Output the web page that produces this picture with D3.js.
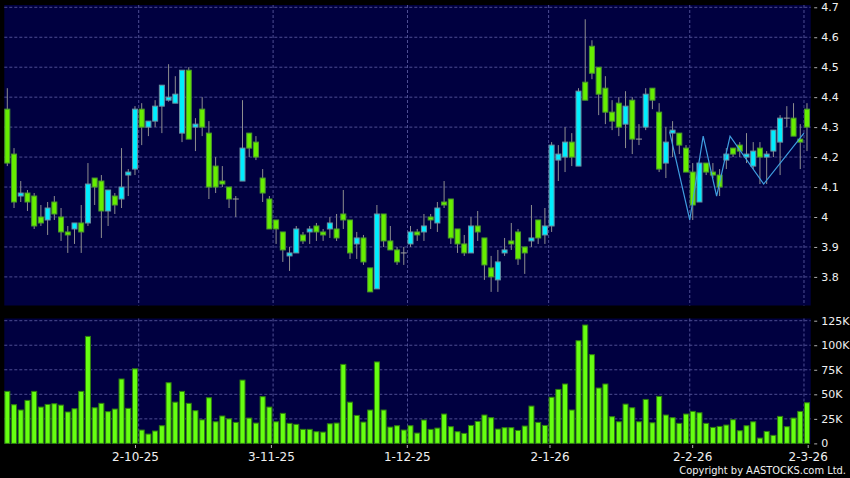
<!DOCTYPE html>
<html><head><meta charset="utf-8">
<script src="https://cdn.jsdelivr.net/npm/d3@7"></script>
<style>html,body{margin:0;padding:0;background:#000;} svg{display:block;}</style>
</head><body><svg id="c" width="850" height="478"></svg>
<script>
const opens  = [4.36,4.21,4.07,4.08,4.07,4.00,3.99,4.05,4.00,3.95,3.96,3.98,3.98,4.13,4.12,4.02,4.07,4.06,4.14,4.16,
                4.36,4.30,4.32,4.37,4.39,4.38,4.28,4.49,4.30,4.36,4.28,4.17,4.12,4.10,4.06,4.12,4.28,4.25,4.13,4.06,
                3.99,3.95,3.87,3.88,3.94,3.95,3.97,3.95,3.96,3.96,4.01,3.99,3.91,3.93,3.83,3.76,4.01,3.92,3.89,3.88,
                3.91,3.95,3.95,4.00,3.98,4.05,4.06,3.96,3.91,3.88,3.97,3.93,3.83,3.79,3.88,3.92,3.95,3.90,3.92,3.99,
                3.94,3.97,4.19,4.20,4.25,4.17,4.45,4.57,4.50,4.43,4.35,4.38,4.31,4.39,4.26,4.30,4.43,4.35,4.18,4.28,
                4.28,4.23,4.15,4.05,4.18,4.15,4.14,4.19,4.23,4.24,4.20,4.17,4.23,4.20,4.22,4.25,4.33,4.33,4.26,4.36];
const highs  = [4.43,4.23,4.12,4.09,4.08,4.04,4.05,4.07,4.03,3.97,3.98,4.04,4.18,4.13,4.14,4.09,4.08,4.23,4.16,4.37,
                4.38,4.32,4.39,4.44,4.51,4.47,4.49,4.50,4.33,4.40,4.32,4.20,4.17,4.10,4.07,4.39,4.28,4.27,4.16,4.07,
                3.99,3.95,3.90,3.97,3.95,3.97,3.98,3.96,4.00,4.01,4.09,3.99,3.95,3.94,3.83,4.04,4.01,3.97,3.90,3.90,
                3.97,3.96,4.01,4.01,4.05,4.12,4.06,3.96,3.94,4.00,4.02,3.93,3.87,3.89,3.93,3.98,3.96,3.90,4.04,3.99,
                4.03,4.25,4.24,4.30,4.28,4.43,4.66,4.59,4.50,4.47,4.39,4.40,4.42,4.40,4.31,4.43,4.43,4.38,4.30,4.32,
                4.28,4.24,4.18,4.18,4.18,4.18,4.16,4.23,4.23,4.25,4.28,4.25,4.25,4.22,4.29,4.34,4.37,4.38,4.31,4.38];
const lows   = [4.17,4.03,4.05,4.02,3.96,3.97,3.94,3.99,3.92,3.88,3.91,3.88,3.97,4.04,3.93,3.97,4.01,4.03,4.07,4.14,
                4.24,4.27,4.30,4.28,4.385,4.38,4.25,4.26,4.22,4.27,4.06,4.08,4.10,4.03,4.00,4.12,4.20,4.19,4.05,3.96,
                3.91,3.85,3.82,3.88,3.91,3.91,3.92,3.92,3.93,3.92,3.96,3.86,3.86,3.84,3.75,3.76,3.90,3.89,3.84,3.84,
                3.90,3.92,3.92,3.96,3.95,4.03,3.91,3.88,3.87,3.88,3.92,3.79,3.75,3.75,3.87,3.89,3.84,3.81,3.90,3.91,
                3.91,3.95,4.12,4.15,4.17,4.17,4.39,4.46,4.34,4.31,4.29,4.27,4.23,4.21,4.24,4.29,4.36,4.15,4.13,4.20,
                4.21,4.15,3.99,4.05,4.14,4.13,4.07,4.16,4.20,4.20,4.18,4.16,4.11,4.11,4.20,4.14,4.30,4.27,4.16,4.22];
const closes = [4.18,4.05,4.08,4.05,3.97,3.98,4.03,4.01,3.95,3.94,3.98,3.95,4.11,4.10,4.02,4.09,4.04,4.10,4.15,4.36,
                4.30,4.32,4.37,4.44,4.40,4.41,4.49,4.26,4.31,4.30,4.10,4.10,4.11,4.06,4.06,4.23,4.23,4.20,4.08,3.96,
                3.96,3.89,3.88,3.96,3.92,3.96,3.95,3.94,3.98,3.93,3.99,3.88,3.93,3.85,3.75,4.01,3.92,3.89,3.85,3.88,
                3.95,3.94,3.97,3.99,4.03,4.04,3.93,3.91,3.88,3.97,3.95,3.84,3.80,3.85,3.89,3.91,3.86,3.88,3.93,3.93,
                3.97,4.24,4.21,4.25,4.20,4.42,4.39,4.48,4.41,4.35,4.32,4.30,4.37,4.26,4.26,4.41,4.39,4.16,4.25,4.29,
                4.24,4.15,4.04,4.18,4.15,4.14,4.10,4.21,4.21,4.22,4.21,4.22,4.20,4.21,4.29,4.33,4.33,4.27,4.25,4.30];
// volume in thousands of shares
const volumes = [53,39.4,34,43.8,53,37,39.7,40.4,39,32,35.3,53,109,36.3,40.8,32.3,35,65.6,35.7,76,
                 13.6,9.5,12.6,18,61.8,42,53,40.8,33.3,24,46.5,22,27.9,25,21.4,64.5,25.8,20.7,47.6,37,
                 22,30.6,20.4,19.4,14.3,14.3,11.9,11.5,20,20.7,80.5,42,28.5,21.7,34,83,34,16.6,18,13.6,
                 18,10.5,23.8,14.3,15.6,29.9,17,11.9,10.2,18.3,22.4,28.9,26.2,14.6,16,16,13.2,17.7,38,21.4,
                 18.3,47,55,60.5,34,104.6,120.6,90.4,56.4,60.5,27.2,22,40,36.3,22,44.8,21,47.9,28.9,26.2,
                 20.4,29.9,32.6,31.2,20.4,16.3,17.3,18.7,24.1,12.9,18,22,5.4,12.2,8.2,27.5,17,25.8,32.6,41.4];
const dateTickIdx = [20, 40, 60, 81, 102, 119];
const dateTickLabels = ["2-10-25", "3-11-25", "1-12-25", "2-1-26", "2-2-26", "2-3-26"];
const priceTicks = [3.8, 3.9, 4.0, 4.1, 4.2, 4.3, 4.4, 4.5, 4.6, 4.7];
const priceTickLabels = ["3.8", "3.9", "4", "4.1", "4.2", "4.3", "4.4", "4.5", "4.6", "4.7"];
const volTicks = [0, 25, 50, 75, 100, 125];
const volTickLabels = ["0", "25K", "50K", "75K", "100K", "125K"];
const lineIdx = [99, 102, 104, 106, 108, 113, 119];
const lineVals = [4.285, 3.99, 4.27, 4.07, 4.27, 4.11, 4.28];

const N = opens.length;
const svg = d3.select("#c");
const W = 850, H = 478;
const P = {l: 4.3, r: 810.7, pTop: 5, pBot: 305.5, vTop: 318.5, vBot: 444};

svg.append("rect").attr("width", W).attr("height", H).attr("fill", "#000");

const x = d3.scaleBand().domain(d3.range(N)).range([P.l, P.r]).padding(0);
const xt = d3.scaleLinear().domain([0, N - 1]).range([-0.9, 807.7]);
const y = d3.scaleLinear().domain([3.8, 4.7]).range([276.9, 7.3]);
const yv = d3.scaleLinear().domain([0, 125]).range([443.4, 320.7]);

const GRID = "#4d4d92";
const BG = "#000040";

// panels
svg.append("rect").attr("x", P.l).attr("y", P.pTop).attr("width", P.r - P.l).attr("height", P.pBot - P.pTop).attr("fill", BG);
svg.append("rect").attr("x", P.l).attr("y", P.vTop).attr("width", P.r - P.l).attr("height", P.vBot - P.vTop).attr("fill", BG);

const grid = svg.append("g").attr("stroke", GRID).attr("stroke-width", 1).attr("stroke-dasharray", "3,2");
grid.selectAll("line.hp").data(priceTicks).join("line")
  .attr("x1", P.l).attr("x2", P.r).attr("y1", d => y(d)).attr("y2", d => y(d));
grid.selectAll("line.hv").data(volTicks.filter(v => v > 0)).join("line").attr("class", "hv")
  .attr("x1", P.l).attr("x2", P.r).attr("y1", d => yv(d)).attr("y2", d => yv(d));
grid.selectAll("line.vp").data(dateTickIdx).join("line").attr("class", "vp")
  .attr("x1", d => x(d)).attr("x2", d => x(d)).attr("y1", P.pTop).attr("y2", P.pBot);
grid.selectAll("line.vv").data(dateTickIdx).join("line").attr("class", "vv")
  .attr("x1", d => x(d)).attr("x2", d => x(d)).attr("y1", P.vTop).attr("y2", P.vBot);

// candles
const candles = d3.range(N).map(i => ({i, o: opens[i], h: highs[i], l: lows[i], c: closes[i]}));
const cg = svg.append("g");
cg.selectAll("line.wick").data(candles).join("line").attr("class", "wick")
  .attr("x1", d => x(d.i) + 3).attr("x2", d => x(d.i) + 3)
  .attr("y1", d => y(d.h)).attr("y2", d => y(d.l))
  .attr("stroke", "#8e8e8e").attr("stroke-width", 1);
cg.selectAll("rect.body").data(candles.filter(d => d.o !== d.c)).join("rect").attr("class", "body")
  .attr("x", d => x(d.i) + 0.5)
  .attr("y", d => y(Math.max(d.o, d.c)))
  .attr("width", 5)
  .attr("height", d => Math.max(1, Math.abs(y(d.o) - y(d.c))))
  .attr("fill", d => d.c > d.o ? "#00eeff" : "#66ee00")
  .attr("stroke", d => d.c > d.o ? "#6a8fa0" : "#4c9a2c")
  .attr("stroke-width", 1);
cg.selectAll("line.doji").data(candles.filter(d => d.o === d.c)).join("line").attr("class", "doji")
  .attr("x1", d => x(d.i)).attr("x2", d => x(d.i) + 6)
  .attr("y1", d => y(d.o)).attr("y2", d => y(d.o))
  .attr("stroke", "#a0a0a0").attr("stroke-width", 1);

// line overlay
svg.append("path")
  .datum(lineIdx.map((d, k) => [d, lineVals[k]]))
  .attr("fill", "none").attr("stroke", "#3f9ee0").attr("stroke-width", 1.2)
  .attr("d", d3.line().x(d => x(d[0])).y(d => y(d[1])));

// volume
svg.append("g").selectAll("rect").data(volumes).join("rect")
  .attr("x", (d, i) => x(i) + 0.5)
  .attr("y", d => yv(d))
  .attr("width", 5)
  .attr("height", d => yv(0) - yv(d))
  .attr("fill", "#66ff11").attr("stroke", "#2f7f0f").attr("stroke-width", 1);

// right axes
const FONT = "'DejaVu Sans', Verdana, sans-serif";
const ap = svg.append("g").attr("transform", `translate(${P.r + 3.5},0)`)
  .call(d3.axisRight(y).tickValues(priceTicks).tickSize(3).tickPadding(4)
    .tickFormat((d, k) => priceTickLabels[k]));
const av = svg.append("g").attr("transform", `translate(${P.r + 3.5},0)`)
  .call(d3.axisRight(yv).tickValues(volTicks).tickSize(3).tickPadding(4)
    .tickFormat((d, k) => volTickLabels[k]));
[ap, av].forEach(a => {
  a.select(".domain").remove();
  a.selectAll(".tick line").attr("stroke", "#b0b0b0");
  a.selectAll(".tick text").attr("fill", "#f0f0f0").style("font-family", FONT).style("font-size", "11px");
});

// bottom axis
const ax = svg.append("g").attr("transform", `translate(0,${P.vBot + 1})`)
  .call(d3.axisBottom(xt).tickValues(dateTickIdx).tickSize(3).tickPadding(4)
    .tickFormat((d, k) => dateTickLabels[k]));
ax.select(".domain").remove();
ax.selectAll(".tick line").attr("stroke", "#b0b0b0");
ax.selectAll(".tick text").attr("fill", "#f0f0f0").style("font-family", FONT).style("font-size", "12px");

svg.append("text").attr("x", 846).attr("y", 473.5).attr("text-anchor", "end")
  .attr("fill", "#f0f0f0")
  .style("font-family", "'DejaVu Sans Condensed', 'Liberation Sans Narrow', 'DejaVu Sans', sans-serif")
  .style("font-size", "11px")
  .text("Copyright by AASTOCKS.com Ltd.");
</script></body></html>
